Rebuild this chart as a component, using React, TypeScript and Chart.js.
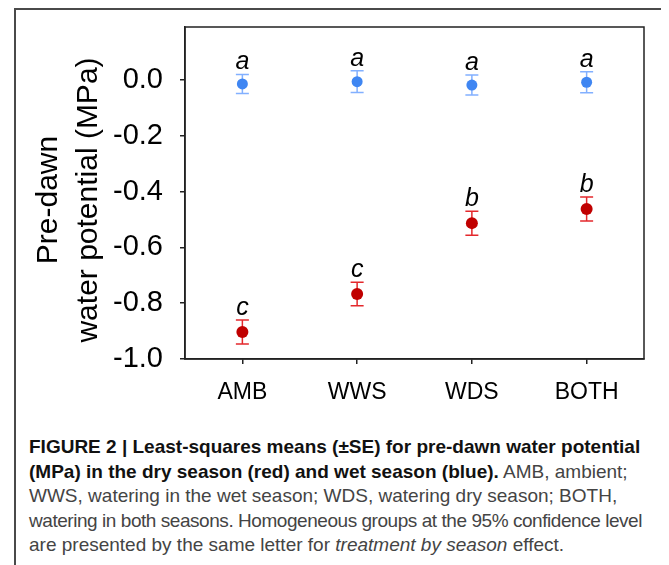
import React, { useEffect, useRef } from 'react';
import { Chart, registerables } from 'chart.js';

Chart.register(...registerables);

const categories = ['AMB', 'WWS', 'WDS', 'BOTH'];
const wetMeans = [-0.014, -0.006, -0.018, -0.008];
const wetSE = [0.034, 0.039, 0.036, 0.038];
const dryMeans = [-0.903, -0.767, -0.513, -0.462];
const drySE = [0.043, 0.042, 0.043, 0.043];
const wetLetters = ['a', 'a', 'a', 'a'];
const dryLetters = ['c', 'c', 'b', 'b'];
const yTicks = [0.0, -0.2, -0.4, -0.6, -0.8, -1.0];
const yTitleLines = ['Pre-dawn', 'water potential (MPa)'];
const yMin = -1.0;
const yMax = 0.19;

const BLUE = '#3f86f2';
const BLUE_BAR = '#82b0ff';
const RED = '#c00000';
const RED_BAR = '#e4282c';
const FONT = '"Liberation Sans", Arial, sans-serif';

const overlay = {
  id: 'overlay',
  beforeDatasetsDraw(chart: any) {
    const { ctx, scales } = chart;
    const x = scales.x;
    const y = scales.y;
    const draw = (means: number[], se: number[], color: string) => {
      ctx.save();
      ctx.strokeStyle = color;
      ctx.lineWidth = 1.5;
      means.forEach((m, i) => {
        const px = x.getPixelForValue(i);
        const top = y.getPixelForValue(m + se[i]);
        const bot = y.getPixelForValue(m - se[i]);
        ctx.beginPath();
        ctx.moveTo(px, top);
        ctx.lineTo(px, bot);
        ctx.moveTo(px - 6.5, top);
        ctx.lineTo(px + 6.5, top);
        ctx.moveTo(px - 6.5, bot);
        ctx.lineTo(px + 6.5, bot);
        ctx.stroke();
      });
      ctx.restore();
    };
    draw(wetMeans, wetSE, BLUE_BAR);
    draw(dryMeans, drySE, RED_BAR);
  },
  afterDatasetsDraw(chart: any) {
    const { ctx, scales } = chart;
    const x = scales.x;
    const y = scales.y;
    ctx.save();
    ctx.fillStyle = '#000';
    ctx.font = 'italic 25px ' + FONT;
    ctx.textAlign = 'center';
    ctx.textBaseline = 'alphabetic';
    const put = (means: number[], se: number[], letters: string[]) => {
      means.forEach((m, i) => {
        const px = x.getPixelForValue(i);
        const top = y.getPixelForValue(m + se[i]);
        ctx.fillText(letters[i], px, top - 5);
      });
    };
    put(wetMeans, wetSE, wetLetters);
    put(dryMeans, drySE, dryLetters);
    ctx.restore();
  },
  afterDraw(chart: any) {
    const { ctx, chartArea } = chart;
    ctx.save();
    ctx.strokeStyle = '#222';
    ctx.lineWidth = 1.5;
    ctx.strokeRect(chartArea.left, chartArea.top, chartArea.right - chartArea.left, chartArea.bottom - chartArea.top);
    // y axis title (two lines, rotated)
    ctx.fillStyle = '#000';
    ctx.font = '30px ' + FONT;
    ctx.textAlign = 'center';
    ctx.textBaseline = 'middle';
    const cy = (chartArea.top + chartArea.bottom) / 2 + 7;
    yTitleLines.forEach((line, i) => {
      ctx.save();
      ctx.translate(33 + i * 40, cy);
      ctx.rotate(-Math.PI / 2);
      ctx.fillText(line, 0, 0);
      ctx.restore();
    });
    ctx.restore();
  },
};

function ChartCanvas() {
  const ref = useRef<HTMLCanvasElement | null>(null);
  useEffect(() => {
    if (!ref.current) return;
    const chart = new Chart(ref.current, {
      type: 'line',
      data: {
        labels: categories,
        datasets: [
          {
            label: 'Wet season',
            data: wetMeans,
            showLine: false,
            pointRadius: 5.5,
            pointBackgroundColor: BLUE,
            pointBorderColor: BLUE,
            pointBorderWidth: 0,
          },
          {
            label: 'Dry season',
            data: dryMeans,
            showLine: false,
            pointRadius: 6,
            pointBackgroundColor: RED,
            pointBorderColor: RED,
            pointBorderWidth: 0,
          },
        ],
      },
      options: {
        animation: false,
        responsive: false,
        layout: { padding: { left: 0, right: 22, top: 17, bottom: 0 } },
        plugins: { legend: { display: false }, tooltip: { enabled: false } },
        scales: {
          x: {
            type: 'category',
            offset: true,
            grid: { display: true, drawOnChartArea: false, drawTicks: true, tickLength: 5, color: '#222', lineWidth: 1.5 },
            border: { display: true, color: '#222', width: 1.5 },
            ticks: { color: '#000', font: { family: FONT, size: 23 }, padding: 15, maxRotation: 0 },
            afterFit(s: any) { s.height = 61; s.paddingLeft = 0; s.paddingRight = 0; },
          },
          y: {
            type: 'linear',
            min: yMin,
            max: yMax,
            afterBuildTicks(s: any) { s.ticks = yTicks.map((v) => ({ value: v })); },
            grid: { display: true, drawOnChartArea: false, drawTicks: true, tickLength: 5, color: '#222', lineWidth: 1.5 },
            border: { display: true, color: '#222', width: 1.5 },
            ticks: {
              color: '#000',
              font: { family: FONT, size: 29 },
              padding: 17,
              callback: (v: any) => (Math.abs(Number(v)) < 1e-9 ? '0.0' : Number(v).toFixed(1)),
            },
            title: { display: false },
            afterFit(s: any) { s.width = 169; s.paddingTop = 0; s.paddingBottom = 0; },
          },
        },
      },
      plugins: [overlay],
    });
    return () => chart.destroy();
  }, []);
  return <canvas ref={ref} width={650} height={410} style={{ position: 'absolute', left: 8, top: 2, width: 650, height: 410 }} />;
}

export default function App() {
  const bold: React.CSSProperties = { fontWeight: 700, color: '#111' };
  const lineStyle: React.CSSProperties = { whiteSpace: 'nowrap', height: 24.5, lineHeight: '24.5px' };
  return (
    <div style={{ position: 'relative', width: 653, height: 557, background: '#fff' }}>
      <div
        style={{
          position: 'absolute',
          left: 6,
          top: 0,
          width: 655,
          height: 557,
          boxSizing: 'border-box',
          borderTop: '2px solid #4a4a4a',
          borderLeft: '2px solid #4a4a4a',
          borderRight: '2px solid #4a4a4a',
        }}
      />
      <ChartCanvas />
      <div
        style={{
          position: 'absolute',
          left: 21,
          top: 427,
          fontFamily: FONT,
          fontSize: 19,
          color: '#444',
        }}
      >
        <div style={lineStyle}><span style={bold}>FIGURE 2 | Least-squares means (±SE) for pre-dawn water potential</span></div>
        <div style={lineStyle}><span style={bold}>(MPa) in the dry season (red) and wet season (blue).</span> AMB, ambient;</div>
        <div style={lineStyle}>WWS, watering in the wet season; WDS, watering dry season; BOTH,</div>
        <div style={{ ...lineStyle, letterSpacing: '-0.45px' }}>watering in both seasons. Homogeneous groups at the 95% confidence level</div>
        <div style={lineStyle}>are presented by the same letter for <i>treatment by season</i> effect.</div>
      </div>
    </div>
  );
}
